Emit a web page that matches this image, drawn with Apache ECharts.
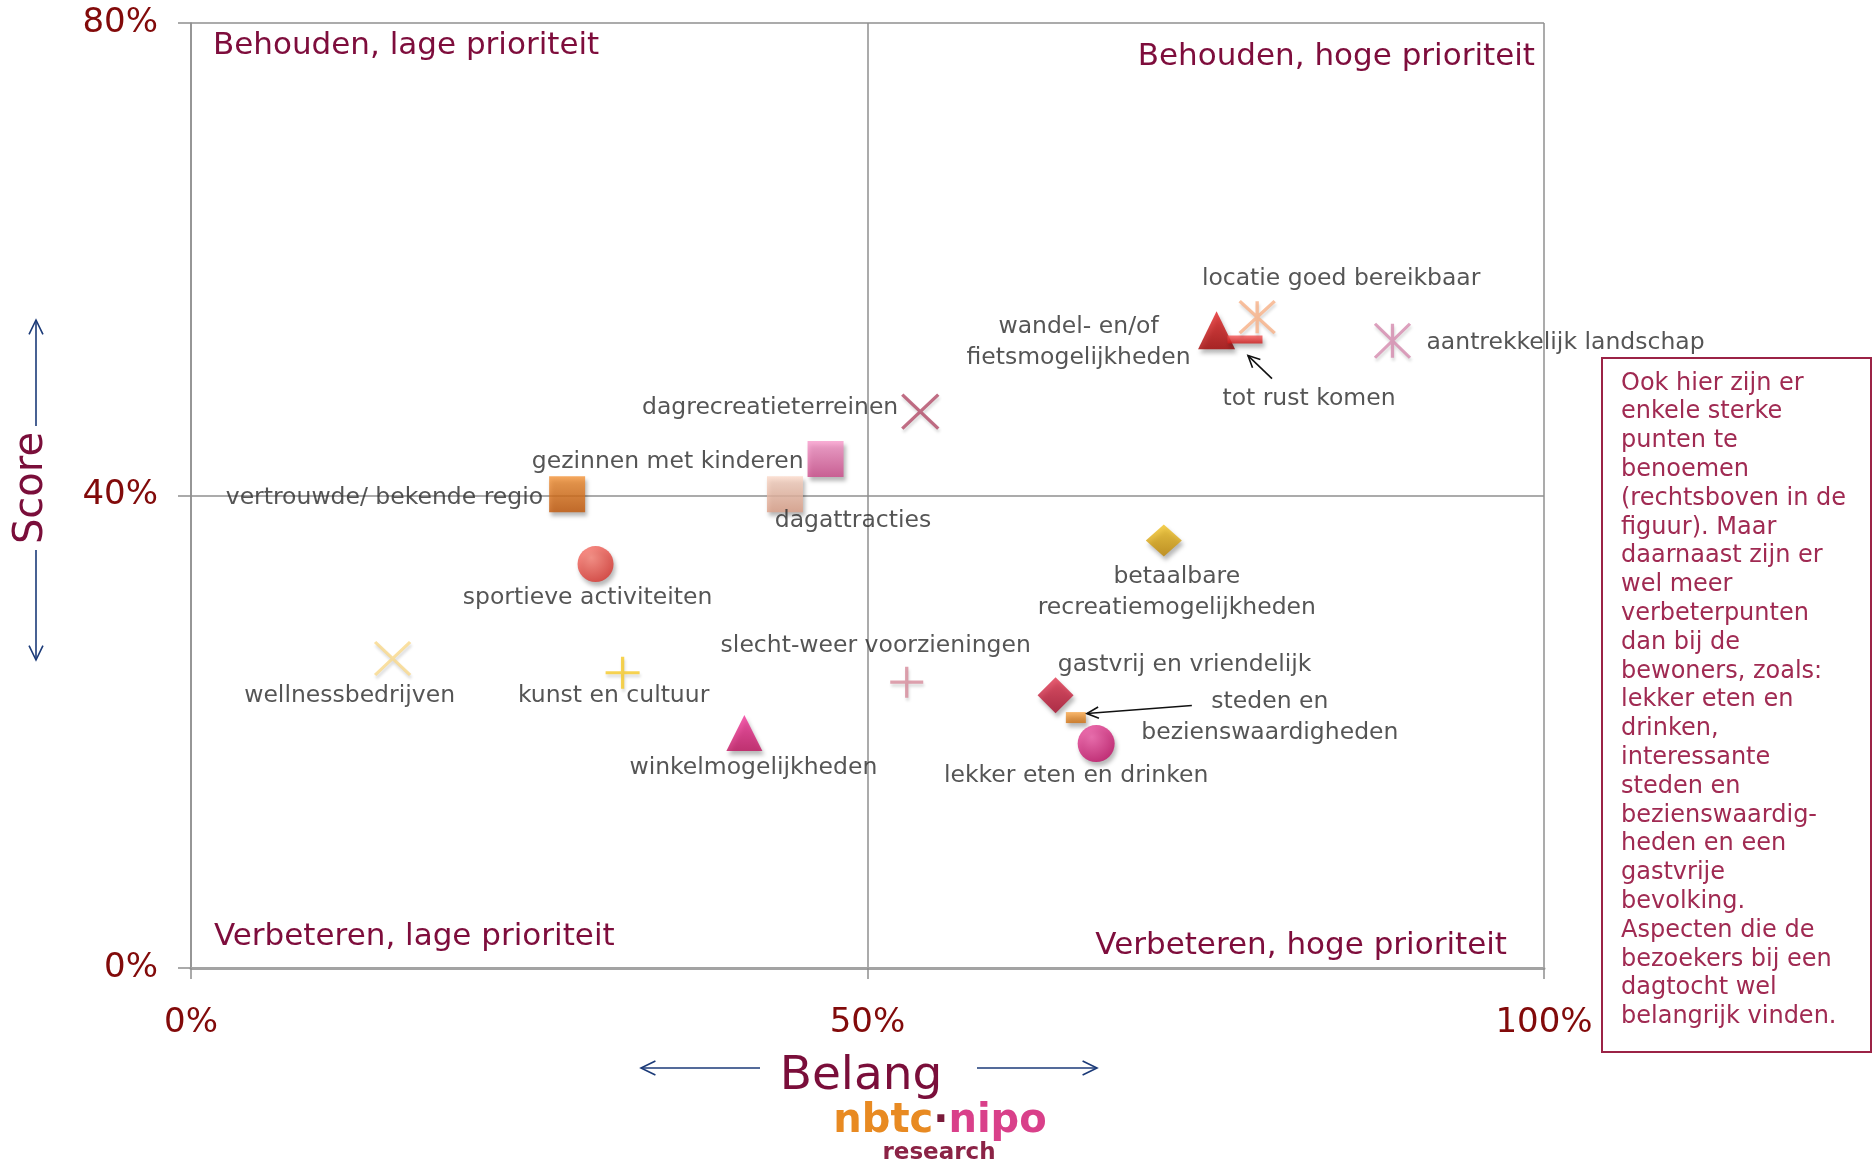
<!DOCTYPE html>
<html><head><meta charset="utf-8">
<script src="https://cdn.jsdelivr.net/npm/echarts@6/dist/echarts.min.js"></script>
<style>html,body{margin:0;padding:0;background:#fff}#c{width:1873px;height:1165px}</style>
</head><body><div id="c"></div>
<script>
// ---------- DATA ----------
const aspecten = ['vertrouwde/ bekende regio','gezinnen met kinderen','dagattracties','dagrecreatieterreinen',
  'wandel- en/of fietsmogelijkheden','tot rust komen','locatie goed bereikbaar','aantrekkelijk landschap',
  'betaalbare recreatiemogelijkheden','sportieve activiteiten','wellnessbedrijven','kunst en cultuur',
  'winkelmogelijkheden','slecht-weer voorzieningen','gastvrij en vriendelijk','steden en bezienswaardigheden',
  'lekker eten en drinken'];
const puntLabels = ['vertrouwde/ bekende regio','gezinnen met kinderen','dagattracties','dagrecreatieterreinen',
  'wandel- en/of\nfietsmogelijkheden','tot rust komen','locatie goed bereikbaar','aantrekkelijk landschap',
  'betaalbare\nrecreatiemogelijkheden','sportieve activiteiten','wellnessbedrijven','kunst en cultuur',
  'winkelmogelijkheden','slecht-weer voorzieningen','gastvrij en vriendelijk','steden en\nbezienswaardigheden',
  'lekker eten en drinken'];
const belang = [27.8, 46.9, 43.9, 53.9, 75.8, 77.9, 78.8, 88.8, 71.9, 29.9, 14.9, 31.9, 40.9, 52.9, 63.9, 65.4, 66.9];
const score  = [40.1, 43.1, 40.1, 47.1, 54.0, 53.2, 55.1, 53.1, 36.2, 34.2, 26.2, 25.0, 19.9, 24.2, 23.1, 21.2, 19.0];
const xTicks = [0, 50, 100];
const yTicks = [0, 40, 80];
const xTitle = 'Belang';
const yTitle = 'Score';
const kwadranten = ['Behouden, lage prioriteit','Behouden, hoge prioriteit','Verbeteren, lage prioriteit','Verbeteren, hoge prioriteit'];
const toelichting = ['Ook hier zijn er','enkele sterke','punten te','benoemen','(rechtsboven in de','figuur). Maar',
  'daarnaast zijn er','wel meer','verbeterpunten','dan bij de','bewoners, zoals:','lekker eten en','drinken,',
  'interessante','steden en','bezienswaardig-','heden en een','gastvrije','bevolking.','Aspecten die de',
  'bezoekers bij een','dagtocht wel','belangrijk vinden.'];

// ---------- STYLE ----------
const FONT = "'DejaVu Sans', Verdana, sans-serif";
const G = (a,b)=> new echarts.graphic.LinearGradient(0,0,0,1,[{offset:0,color:a},{offset:1,color:b}]);
const R = (a,b)=> new echarts.graphic.RadialGradient(0.38,0.32,0.75,[{offset:0,color:a},{offset:1,color:b}]);
const PX = 'path://M0,0L10,10M10,0L0,10';
const PPLUS = 'path://M5,0L5,10M0,5L10,5';
const PSTAR = 'path://M0,0L10,10M10,0L0,10M5,0L5,10';
const markers = [
  {s:'rect', z:36, f:G('#F39236','#C25606')},
  {s:'rect', z:36, f:G('#F79ACB','#CC4A8A')},
  {s:'rect', z:36, f:G('#FAD8C8','#DDA088')},
  {s:PX, z:[36,34], st:'#B24A66'},
  {s:'triangle', z:[37,38], f:G('#E52424','#A20000')},
  {s:'rect', z:[35,8], f:G('#F45454','#D01818')},
  {s:PSTAR, z:[35,32], st:'#F7B086'},
  {s:PSTAR, z:[35,34], st:'#D48AAE'},
  {s:'diamond', z:[36,32], f:G('#F2C424','#BF8600')},
  {s:'circle', z:36, f:R('#FF8478','#D8302A')},
  {s:PX, z:[35,33], st:'#F9D88A'},
  {s:PPLUS, z:[34,32], st:'#F5C826'},
  {s:'triangle', z:[36,36], f:G('#F2369A','#C0105E')},
  {s:PPLUS, z:[33,31], st:'#D68A9A'},
  {s:'diamond', z:[36,36], f:G('#E2354E','#A80A2A')},
  {s:'rect', z:[20,11], f:G('#F6A446','#D07010')},
  {s:'circle', z:37, f:R('#F25AA8','#BF0A62')}
];
const labelPlace = [
  ['right',-24,4],['right',-22,3],['center',68,27],['right',-22,-4],
  ['center',-138,12],['center',64,59],['center',84,-38],['left',34,2],
  ['center',13,52],['center',-8,34],['center',-43,37],['center',-9,23],
  ['center',9,35],['center',-31,-36],['center',129,-30],['center',194,0],
  ['center',-20,32]
];
const annotArrows = [
  {i:5, from:[27,39], to:[3,16]},
  {i:15, from:[116,-12], to:[11,-4]}
];

const data = aspecten.map((n,i)=>{
  const m = markers[i], lp = labelPlace[i];
  return {
    name: n, value: [belang[i], score[i]], symbol: m.s, symbolSize: m.z,
    itemStyle: m.st ? {color: m.st, borderColor: m.st, borderWidth: 3.2,
        shadowBlur: 3, shadowOffsetX: 1, shadowOffsetY: 3, shadowColor: 'rgba(0,0,0,0.18)'}
      : {color: m.f, borderWidth: 0, shadowBlur: 4, shadowOffsetX: 2, shadowOffsetY: 4, shadowColor: 'rgba(0,0,0,0.35)'},
    label: {show: true, formatter: puntLabels[i], position: 'inside', align: lp[0], verticalAlign: 'middle',
      offset: [lp[1], lp[2]], color: '#2b2b2b', fontSize: 23.5, fontFamily: FONT, lineHeight: 31,
      textBorderWidth: 0, textShadowBlur: 0}
  };
});

const chart = echarts.init(document.getElementById('c'), null, {renderer: 'canvas'});
const axisGray = '#8f8f8f';
const option = {
  animation: false,
  backgroundColor: '#ffffff',
  grid: {left: 191, right: 329, top: 23, bottom: 197},
  xAxis: {
    type: 'value', min: xTicks[0], max: xTicks[xTicks.length-1], interval: xTicks[1]-xTicks[0],
    axisLine: {show: true, onZero: false, lineStyle: {color: '#a3a3a3', width: 3}},
    axisTick: {show: true, length: 11, lineStyle: {color: axisGray, width: 1.5}},
    splitLine: {show: true, lineStyle: {color: axisGray, width: 1.5}},
    axisLabel: {formatter: '{value}%', color: '#820a0a', fontSize: 34, fontFamily: FONT, margin: 38}
  },
  yAxis: {
    type: 'value', min: yTicks[0], max: yTicks[yTicks.length-1], interval: yTicks[1]-yTicks[0],
    axisLine: {show: true, onZero: false, lineStyle: {color: axisGray, width: 1.5}},
    axisTick: {show: true, length: 13, lineStyle: {color: axisGray, width: 1.5}},
    splitLine: {show: true, lineStyle: {color: axisGray, width: 1.5}},
    axisLabel: {formatter: '{value}%', color: '#820a0a', fontSize: 34, fontFamily: FONT, margin: 33}
  },
  series: [{type: 'scatter', data: data, z: 3}]
};
chart.setOption(option);

// ---------- decorations ----------
function arrow(x1,y1,x2,y2,color,w,head){
  const a = Math.atan2(y2-y1, x2-x1), sp = 0.45;
  const h1 = [x2 - head*Math.cos(a-sp), y2 - head*Math.sin(a-sp)];
  const h2 = [x2 - head*Math.cos(a+sp), y2 - head*Math.sin(a+sp)];
  return [
    {type:'line', shape:{x1,y1,x2,y2}, style:{stroke:color, lineWidth:w}, z:10},
    {type:'polyline', shape:{points:[h1,[x2,y2],h2]}, style:{stroke:color, lineWidth:w, fill:null}, z:10}
  ];
}
const titleCol = '#7A0E3A', navy = '#1B3A78', quadCol = '#7E0D3C';
let g = [];
g.push({type:'text', x:213, y:46, style:{text:kwadranten[0], fontSize:31, fontFamily:FONT, fill:quadCol, align:'left', verticalAlign:'middle'}, z:5});
g.push({type:'text', x:1535, y:57, style:{text:kwadranten[1], fontSize:31, fontFamily:FONT, fill:quadCol, align:'right', verticalAlign:'middle'}, z:5});
g.push({type:'text', x:214, y:937, style:{text:kwadranten[2], fontSize:31, fontFamily:FONT, fill:quadCol, align:'left', verticalAlign:'middle'}, z:5});
g.push({type:'text', x:1507, y:946, style:{text:kwadranten[3], fontSize:31, fontFamily:FONT, fill:quadCol, align:'right', verticalAlign:'middle'}, z:5});
g.push({type:'text', x:32, y:488, rotation:Math.PI/2, style:{text:yTitle, fontSize:40, fontFamily:FONT, fill:titleCol, align:'center', verticalAlign:'middle'}, z:5});
g = g.concat(arrow(36,426,36,320,navy,1.6,16));
g = g.concat(arrow(36,550,36,660,navy,1.6,16));
g.push({type:'text', x:861, y:1077, style:{text:xTitle, fontSize:47, fontFamily:FONT, fill:titleCol, align:'center', verticalAlign:'middle'}, z:5});
g = g.concat(arrow(760,1068,641,1068,navy,1.6,16));
g = g.concat(arrow(977,1068,1097,1068,navy,1.6,16));
g.push({type:'text', x:940, y:1122, style:{text:'{a|nbtc}{d|·}{b|nipo}', fontSize:40, fontWeight:'bold', fontFamily:FONT, align:'center', verticalAlign:'middle',
  rich:{a:{fill:'#E88A22', fontSize:40, fontWeight:'bold', fontFamily:FONT}, d:{fill:'#7A1A3A', fontSize:40, fontWeight:'bold', fontFamily:FONT}, b:{fill:'#D9408A', fontSize:40, fontWeight:'bold', fontFamily:FONT}}}, z:5});
g.push({type:'text', x:939, y:1153, style:{text:'research', fontSize:23, fontWeight:'bold', fontFamily:FONT, fill:'#8B2346', align:'center', verticalAlign:'middle'}, z:5});
g.push({type:'rect', shape:{x:1602, y:358, width:269, height:694}, style:{stroke:'#9B2346', lineWidth:2, fill:'#ffffff'}, z:5});
g.push({type:'text', x:1621, y:369, style:{text:toelichting.join('\n'), fontSize:24, lineHeight:28.8, fontFamily:FONT, fill:'#A02A52', align:'left', verticalAlign:'top'}, z:6});
annotArrows.forEach(a=>{
  const p = chart.convertToPixel({gridIndex:0}, [belang[a.i], score[a.i]]);
  g = g.concat(arrow(p[0]+a.from[0], p[1]+a.from[1], p[0]+a.to[0], p[1]+a.to[1], '#111111', 1.6, 13));
});
chart.setOption({graphic: g});
</script></body></html>
